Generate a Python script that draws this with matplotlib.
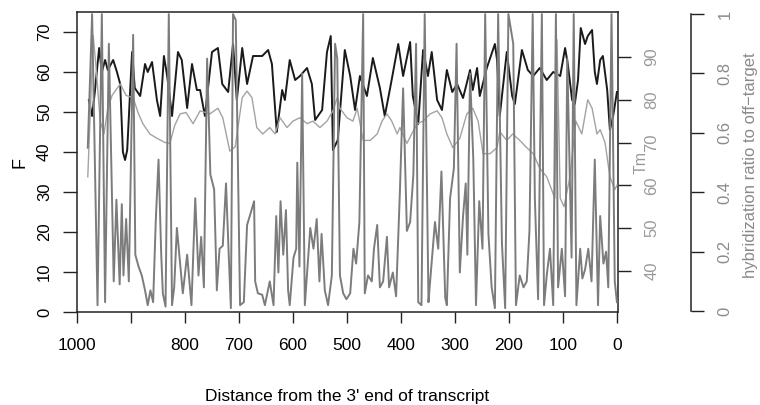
import matplotlib
matplotlib.use("Agg")
import matplotlib.pyplot as plt

plt.rcParams['font.family'] = ['Liberation Sans', 'DejaVu Sans']

# ---- data (distance from 3' end, values) ----
f_dist = [978, 972, 967, 959, 954, 948, 943, 933, 926, 920, 915, 911, 907, 898, 893, 883,
          874, 869, 861, 852, 846, 839, 833, 824, 813, 806, 796, 787, 778, 772, 763, 750,
          739, 731, 720, 711, 704, 694, 685, 674, 657, 646, 639, 630, 620, 615, 606, 596,
          587, 574, 565, 559, 546, 537, 530, 526, 517, 504, 494, 485, 476, 463, 452, 439,
          430, 420, 405, 396, 383, 378, 368, 359, 350, 343, 333, 324, 315, 305, 296, 285,
          272, 267, 259, 254, 241, 226, 222, 217, 204, 194, 189, 176, 165, 155, 143, 130,
          118, 105, 96, 91, 83, 78, 72, 67, 59, 54, 46, 41, 37, 31, 26, 18, 13, 7, 0]
f_vals = [53, 49, 55, 66, 60, 63, 60.5, 63, 60, 57, 40, 38, 40.5, 65, 56, 54,
          62, 60, 62.5, 53, 49, 64, 59, 49, 65, 63, 51, 62, 55.5, 55.5, 49, 65,
          66, 57, 55, 67, 53, 66, 57, 64, 64, 65.5, 62, 45, 55.5, 53, 63, 58,
          59, 61, 57, 48, 50.5, 65, 69, 40.5, 43, 65.5, 59, 50.5, 59, 54, 63.5, 56,
          49, 56, 67, 59, 67.5, 54, 47, 65.5, 59, 65, 53, 50.5, 60.5, 55, 57, 53.5,
          60.5, 55.5, 61, 54, 61, 67, 63, 49, 65, 54, 52, 65.5, 60.5, 59, 61, 58,
          60, 59, 66, 62, 53, 52, 58, 71, 67, 69, 70.5, 60, 57, 63, 64, 55.5, 45.5, 49, 55]

tm_dist = [980, 970, 965, 957, 950, 943, 935, 920, 909, 896, 887, 878, 865, 852, 837, 828,
           819, 809, 798, 785, 772, 754, 739, 730, 717, 707, 694, 685, 676, 667, 656, 643,
           633, 624, 611, 600, 587, 574, 563, 550, 537, 526, 518, 513, 500, 489, 481, 470,
           457, 444, 435, 426, 417, 407, 402, 389, 378, 370, 359, 346, 333, 324, 315, 304,
           291, 278, 267, 257, 248, 235, 222, 217, 204, 193, 180, 167, 155, 143, 130, 118,
           115, 111, 105, 98, 87, 76, 65, 54, 46, 37, 31, 22, 13, 4, 0]
tm_vals = [62, 95, 88, 75, 72, 78, 81, 83.7, 81, 80.5, 77, 74.4, 72, 71, 70, 69.8,
           74, 76.7, 77, 74.4, 77.4, 76.7, 78, 75.8, 68, 69, 80.5, 82, 80.5, 73.5, 72, 73.5,
           72, 75.8, 73.5, 75, 75.8, 74.4, 75, 73.5, 75, 77.4, 80.5, 78, 75.8, 75, 78, 70.5,
           70.5, 72, 75, 76.7, 75, 72, 73.5, 69.8, 72.5, 74.4, 75, 76.7, 77.4, 75.8, 72, 68.8,
           71, 76.7, 78, 75, 67.4, 67.4, 68.8, 72.5, 70.5, 72, 70.5, 68.8, 67.4, 64, 62, 58,
           57, 94, 57, 55, 62, 75, 72, 80, 78, 72, 73, 70, 62, 59, 60]

ratio_dist = [980, 972, 962, 954, 948, 941, 932, 927, 921, 917, 914, 909, 904, 896, 892, 886,
              880, 874, 869, 864, 859, 854, 849, 844, 841, 836, 830, 824, 820, 815, 809, 804,
              796, 788, 781, 775, 770, 765, 759, 753, 746, 741, 736, 730, 724, 719, 715, 711,
              706, 698, 691, 685, 680, 672, 670, 665, 657, 652, 643, 636, 631, 627, 623, 618,
              613, 609, 606, 599, 594, 592, 588, 583, 578, 568, 562, 556, 551, 547, 541, 535,
              528, 522, 518, 513, 507, 501, 494, 488, 483, 477, 470, 467, 461, 454, 450, 444,
              439, 433, 426, 422, 415, 409, 402, 396, 389, 383, 377, 372, 368, 362, 356, 349,
              346, 337, 331, 325, 318, 315, 309, 302, 297, 291, 285, 280, 277, 272, 266, 261,
              255, 249, 244, 238, 232, 226, 220, 213, 207, 201, 192, 187, 180, 173, 167, 162,
              156, 152, 146, 139, 135, 130, 124, 118, 113, 109, 102, 96, 92, 84, 80, 75,
              68, 64, 59, 53, 47, 41, 35, 31, 25, 20, 16, 10, 4, 0]
ratio_vals = [0.55, 1.0, 0.02, 1.0, 0.03, 0.9, 0.1, 0.375, 0.09, 0.36, 0.12, 0.31, 0.1, 0.93, 0.19, 0.15,
              0.12, 0.07, 0.02, 0.07, 0.03, 0.31, 0.51, 0.19, 0.06, 0.015, 1.0, 0.02, 0.08, 0.28, 0.16, 0.06,
              0.19, 0.02, 0.38, 0.12, 0.25, 0.08, 0.85, 0.46, 0.41, 0.07, 0.21, 0.22, 0.43, 0.19, 0.01, 1.0,
              0.98, 0.02, 0.03, 0.29, 0.32, 0.37, 0.1, 0.06, 0.055, 0.02, 0.1, 0.02, 0.32, 0.13, 0.37, 0.19,
              0.34, 0.07, 0.02, 0.18, 0.21, 0.5, 0.15, 0.8, 0.02, 0.28, 0.21, 0.31, 0.1, 0.26, 0.07, 0.02,
              0.12, 0.9, 0.85, 0.12, 0.06, 0.04, 0.06, 0.21, 0.16, 0.3, 1.0, 0.06, 0.12, 0.1, 0.21, 0.29,
              0.08, 0.1, 0.25, 0.08, 0.13, 0.05, 0.4, 0.75, 0.27, 0.3, 0.46, 0.9, 0.03, 0.02, 1.0, 0.03,
              0.1, 0.3, 0.21, 0.47, 0.045, 0.02, 0.38, 0.48, 0.9, 0.13, 0.32, 0.43, 0.19, 0.8, 0.51, 0.02,
              0.37, 0.21, 1.0, 0.26, 0.08, 0.01, 1.0, 0.23, 0.01, 1.0, 0.9, 0.02, 0.12, 0.08, 0.1, 0.27,
              1.0, 0.38, 0.04, 1.0, 0.02, 0.12, 0.21, 0.02, 1.0, 0.08, 0.21, 0.05, 0.85, 0.18, 1.0, 0.02,
              0.21, 0.11, 0.14, 0.21, 0.1, 0.51, 0.02, 0.32, 0.16, 0.2, 0.08, 1.0, 0.1, 0.03]

x_ticks = [1000, 900, 800, 700, 600, 500, 400, 300, 200, 100, 0]
x_tick_labels = ["1000", "", "800", "700", "600", "500", "400", "300", "200", "100", "0"]
f_ticks = [0, 10, 20, 30, 40, 50, 60, 70]
tm_ticks = [40, 50, 60, 70, 80, 90]
ratio_ticks = [0, 0.2, 0.4, 0.6, 0.8, 1.0]
ratio_tick_labels = ["0", "0.2", "0.4", "0.6", "0.8", "1"]

# ---- figure ----
W, H = 760, 405
fig = plt.figure(figsize=(W / 100, H / 100), dpi=100)
L, R, T, B = 77, 618, 12, 312
ax = fig.add_axes([L / W, 1 - B / H, (R - L) / W, (B - T) / H])

black = '#1a1a1a'
c_tm = '#a3a3a3'
c_ratio = '#7c7c7c'
c_tm_lab = '#9a9a9a'
c_ratio_lab = '#8a8a8a'

ax.plot(f_dist, f_vals, color=black, lw=1.4, zorder=3)
ax.set_xlim(1000, -2)
ax.set_ylim(0, 75)
for s in ax.spines.values():
    s.set_color('#222222')
    s.set_linewidth(1.1)
ax.set_xticks(x_ticks)
ax.set_xticklabels(x_tick_labels, fontsize=12.5)
ax.tick_params(axis='x', length=8, width=1, pad=11, color='#222222')
ax.set_yticks(f_ticks)
ax.set_yticklabels([str(v) for v in f_ticks], rotation=90, va='center', fontsize=12)
ax.tick_params(axis='y', length=10, width=1, pad=8, color='#222222')

ax2 = ax.twinx()
ax2.plot(tm_dist, tm_vals, color=c_tm, lw=1.0)
ax2.set_ylim(30.4, 100.5)
ax2.set_yticks(tm_ticks)
ax2.set_yticklabels([str(v) for v in tm_ticks], rotation=90, va='center',
                    fontsize=12, color=c_tm_lab)
ax2.tick_params(axis='y', length=9, width=1, pad=10, color='#222222')
for s in ax2.spines.values():
    s.set_visible(False)

ax3 = ax.twinx()
ax3.plot(ratio_dist, ratio_vals, color=c_ratio, lw=1.4)
ax3.set_ylim(-0.003, 1.007)
ax3.set_xlim(1000, -2)
ax3.spines['right'].set_position(('outward', 73 * 0.72))
ax3.spines['right'].set_bounds(0, 1)
ax3.spines['right'].set_color('#222222')
ax3.spines['right'].set_linewidth(1.1)
for k in ['left', 'top', 'bottom']:
    ax3.spines[k].set_visible(False)
ax3.set_yticks(ratio_ticks)
ax3.set_yticklabels(ratio_tick_labels, rotation=90, va='center',
                    fontsize=12, color=c_ratio_lab)
ax3.tick_params(axis='y', length=9, width=1, pad=10, color='#222222')

# axis titles
fig.text(20 / W, 1 - 162 / H, "F", rotation=90, ha='center', va='center', fontsize=13)
fig.text(641 / W, 1 - 163 / H, "Tm", rotation=90, ha='center', va='center',
         fontsize=11.5, color=c_tm_lab)
fig.text(751 / W, 1 - 165 / H, "hybridization ratio to off\u2212target", rotation=90,
         ha='center', va='center', fontsize=12, color=c_ratio_lab)
fig.text(347.5 / W, 1 - 397 / H, "Distance from the 3' end of transcript",
         ha='center', va='center', fontsize=12.5)

fig.savefig("out.png", dpi=100)
